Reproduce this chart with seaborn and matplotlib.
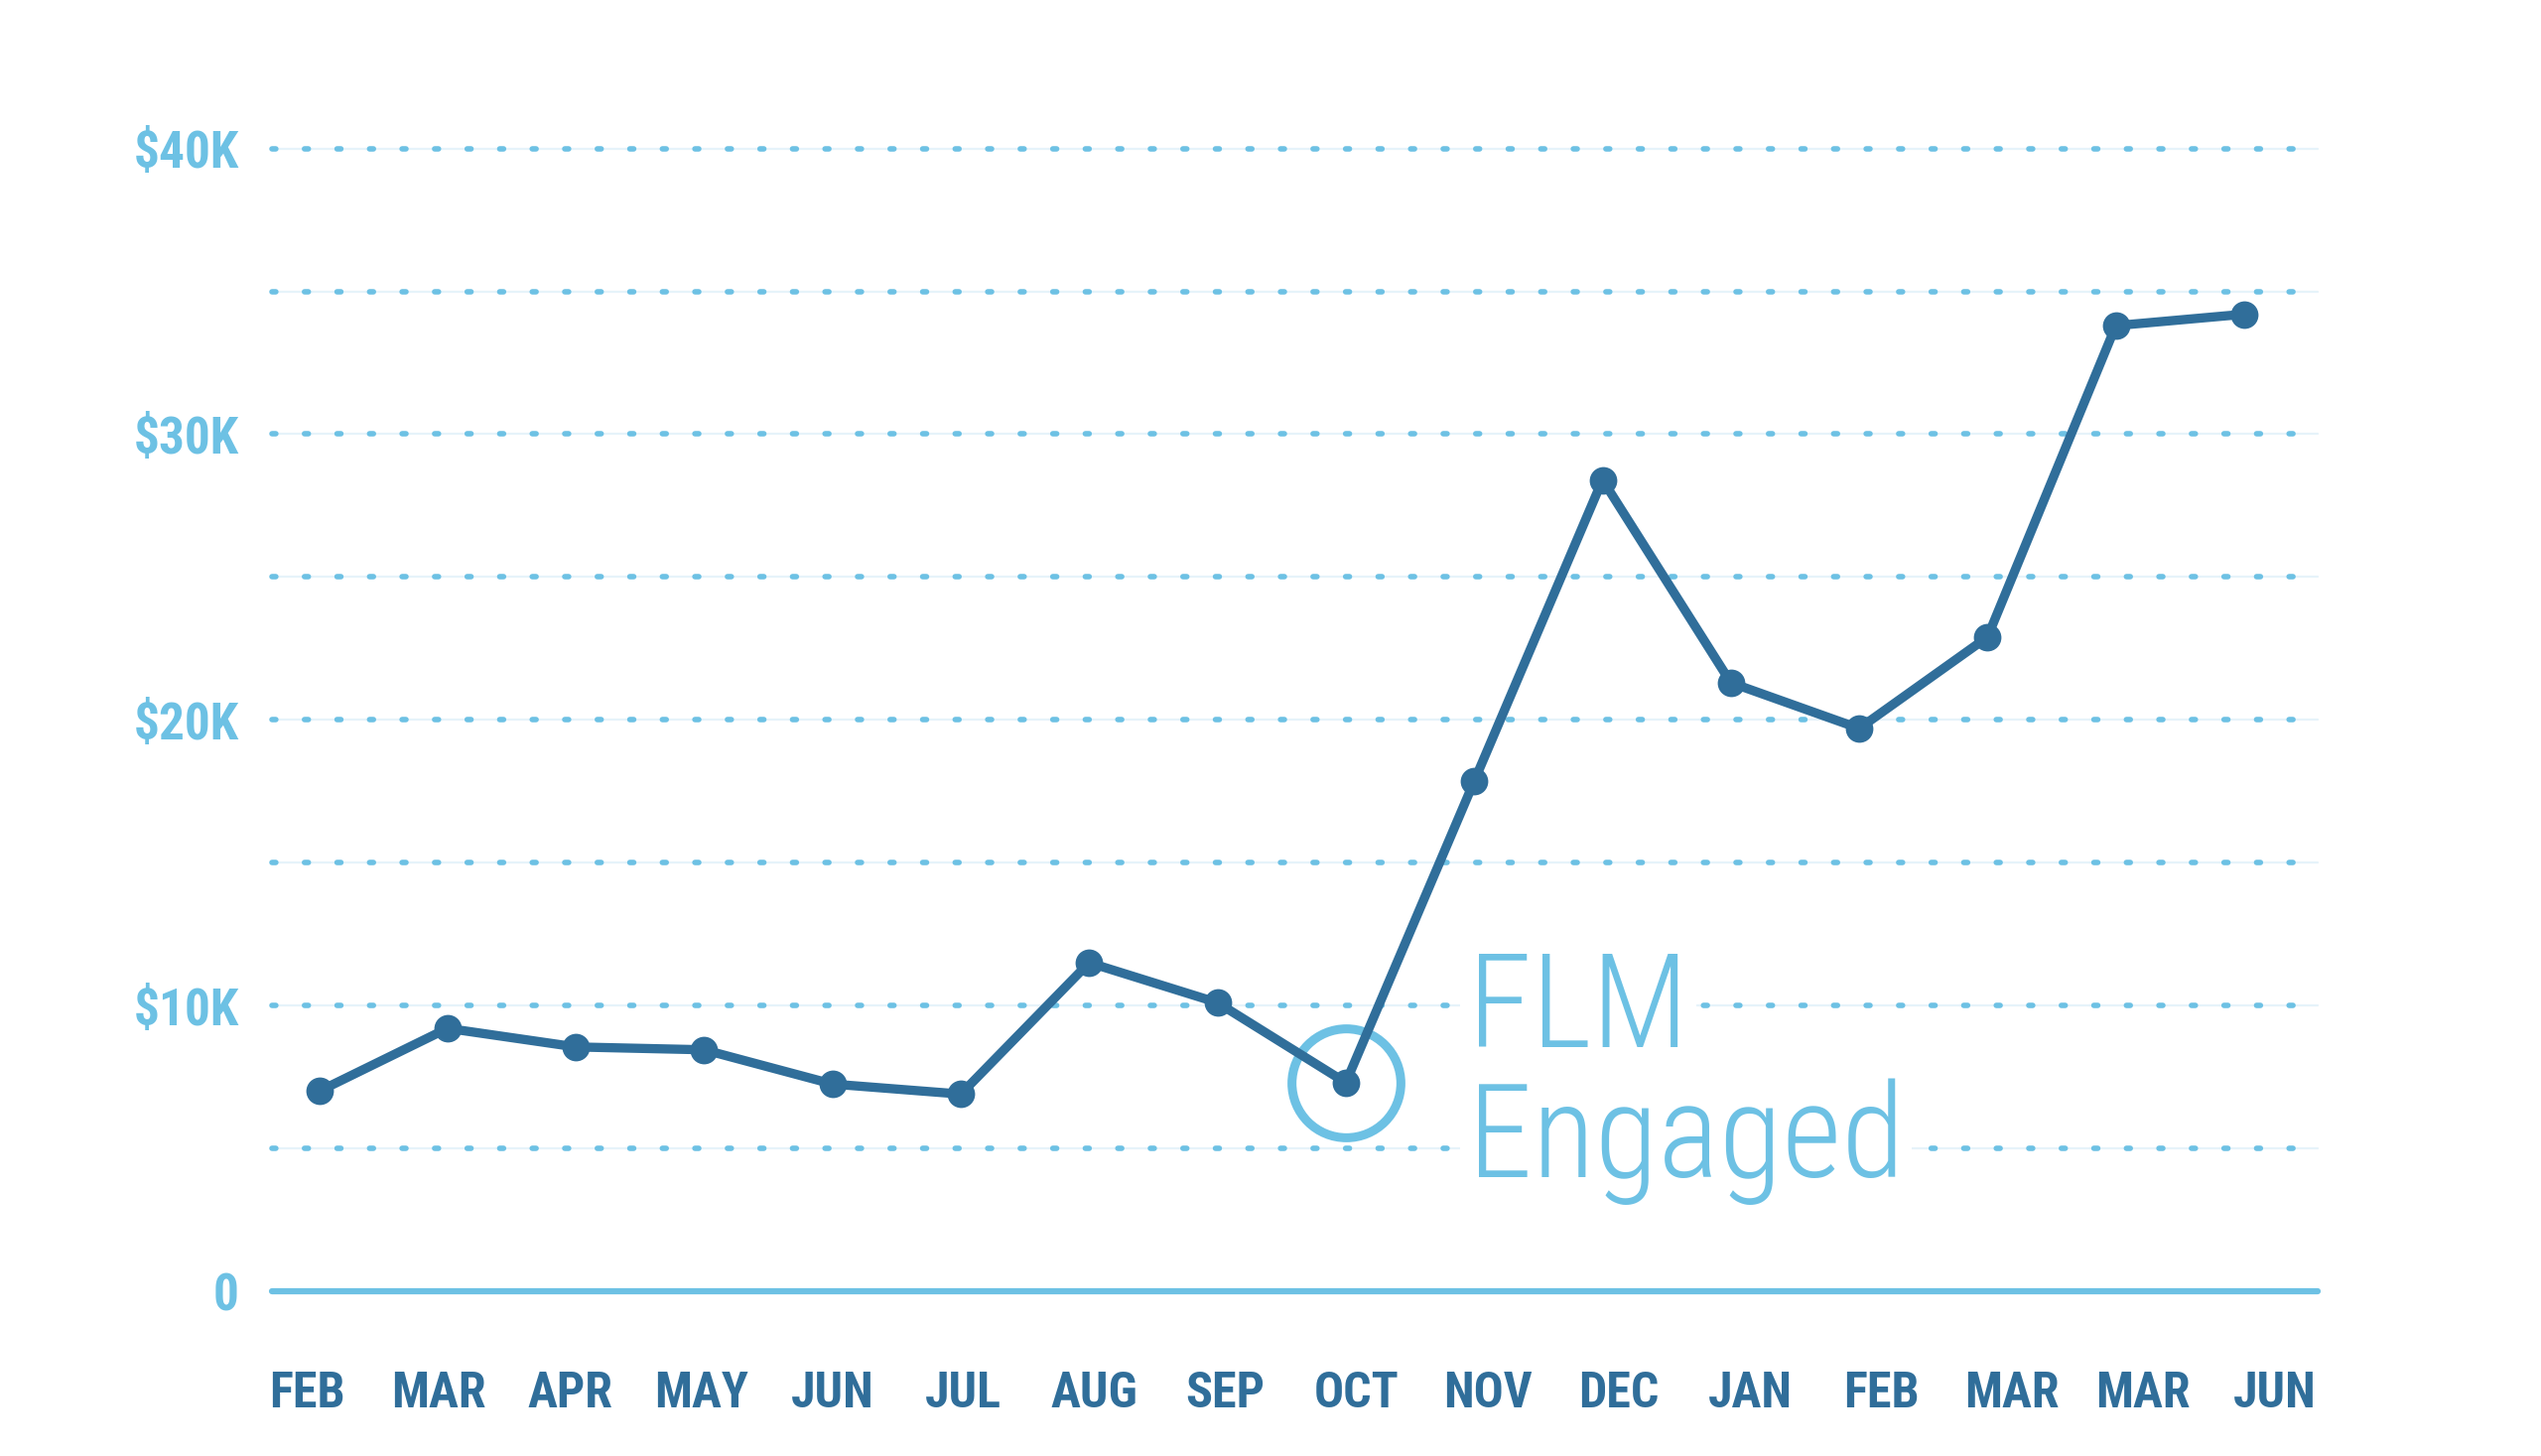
import numpy as np
import pandas as pd
import matplotlib
matplotlib.use("Agg")
import matplotlib.pyplot as plt
from matplotlib import font_manager
import seaborn as sns

# data
months = ["FEB", "MAR", "APR", "MAY", "JUN", "JUL", "AUG", "SEP",
          "OCT", "NOV", "DEC", "JAN", "FEB", "MAR", "MAR", "JUN"]
revenue = [7000, 9200, 8550, 8450, 7250, 6900, 11500, 10100,
           7300, 17850, 28400, 21300, 19700, 22900, 33800, 34200]
grid_values = [5000, 10000, 15000, 20000, 25000, 30000, 35000, 40000]
y_ticks = [0, 10000, 20000, 30000, 40000]
y_labels = ["0", "$10K", "$20K", "$30K", "$40K"]
engaged_idx = 8  # OCT
note_lines = ["FLM", "Engaged"]

DARK = "#306E9A"
LIGHT = "#6DC1E4"
PALE = "#E6F3FA"

sns.set_style("white")
names = {f.name for f in font_manager.fontManager.ttflist}
fam = [f for f in ["Roboto Condensed", "Roboto", "DejaVu Sans"] if f in names]
plt.rcParams["font.family"] = fam

df = pd.DataFrame({"idx": np.arange(len(months)), "revenue": revenue})

fig = plt.figure(figsize=(25.6, 14.67), dpi=100)
ax = fig.add_axes([0.107, 0.1132, 0.805, 0.7848])

# dotted gridlines over a pale line
for g in grid_values:
    ax.axhline(g, color=PALE, lw=1.6, zorder=1, clip_on=False)
    ax.axhline(g, color=LIGHT, lw=4.0, linestyle=(0, (0.7, 5.2)),
               dash_capstyle="round", zorder=1, clip_on=False)
ax.axhline(0, color=LIGHT, lw=4.5, solid_capstyle="round", zorder=2, clip_on=False)

sns.lineplot(data=df, x="idx", y="revenue", ax=ax, color=DARK, lw=6.7,
             marker="o", markersize=20, markeredgewidth=0, zorder=4, clip_on=False)

# highlight ring around the engagement point
ax.plot(engaged_idx, revenue[engaged_idx], marker="o", markersize=79,
        markerfacecolor="none", markeredgecolor=LIGHT, markeredgewidth=6.5,
        zorder=3, clip_on=False)

for txt, ybase in zip(note_lines, [8550, 4000]):
    ax.text(engaged_idx + 0.95, ybase, txt, fontsize=94, color=LIGHT,
            fontweight="light", va="baseline", ha="left", zorder=3,
            bbox=dict(facecolor="white", edgecolor="none", pad=6))

ax.set_xlim(-0.368, 15.57)
ax.set_ylim(0, 40000)
ax.set_xticks(np.arange(len(months)) * 1.0217 - 0.09)
ax.set_xticklabels(months, fontsize=36, fontweight="bold", color=DARK)
ax.set_yticks(y_ticks)
ax.set_yticklabels(y_labels, fontsize=37, fontweight="bold", color=LIGHT)
ax.tick_params(axis="x", length=0, pad=58)
ax.tick_params(axis="y", length=0, pad=24)
ax.set_xlabel("")
ax.set_ylabel("")
ax.grid(False)
sns.despine(ax=ax, left=True, bottom=True)

fig.savefig("out.png", dpi=100, facecolor="white")
